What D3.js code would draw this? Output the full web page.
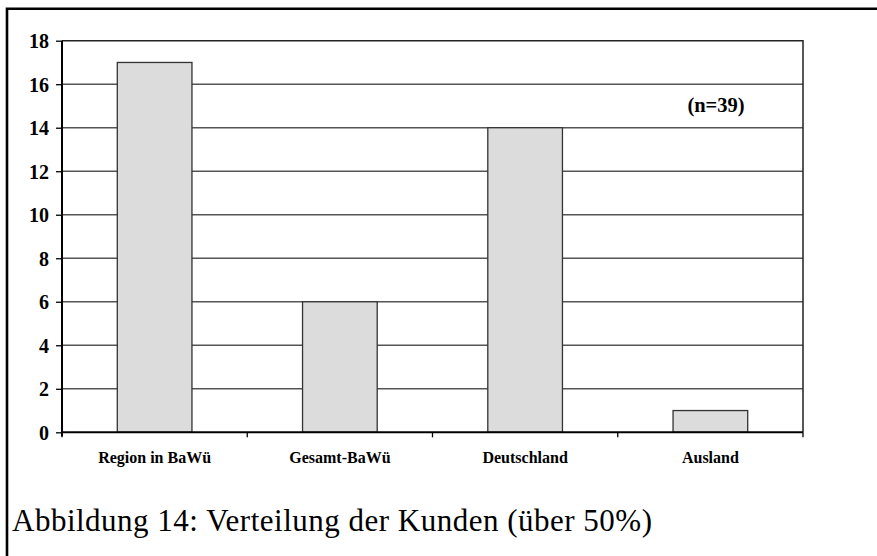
<!DOCTYPE html>
<html>
<head>
<meta charset="utf-8">
<script src="https://cdn.jsdelivr.net/npm/d3@7"></script>
<style>
  html, body { margin: 0; padding: 0; background: #fff; }
  svg { display: block; }
</style>
</head>
<body>
<svg id="chart" width="877" height="556"></svg>
<script>
const categories = ["Region in BaWü", "Gesamt-BaWü", "Deutschland", "Ausland"];
const values = [17, 6, 14, 1];
const yTicks = [0, 2, 4, 6, 8, 10, 12, 14, 16, 18];
const annotation = "(n=39)";
const caption = "Abbildung 14: Verteilung der Kunden (über 50%)";

const svg = d3.select("#chart");
const plot = { left: 62, right: 803, top: 40.7, bottom: 432.3 };

const x = d3.scaleBand().domain(categories).range([plot.left, plot.right]).padding(0);
const y = d3.scaleLinear().domain([0, 18]).range([plot.bottom, plot.top]);
const barFrac = 0.403;
const serif = "'Liberation Serif', 'Times New Roman', serif";

// outer frame (left and top)
svg.append("path")
  .attr("d", `M7,560 L7,8.7 L880,8.7`)
  .attr("fill", "none").attr("stroke", "#000").attr("stroke-width", 2.6);

// gridlines
svg.append("g").selectAll("line")
  .data(yTicks.filter(d => d > 0 && d < 18))
  .join("line")
  .attr("x1", plot.left).attr("x2", plot.right)
  .attr("y1", d => y(d)).attr("y2", d => y(d))
  .attr("stroke", "#555").attr("stroke-width", 1.5);

// plot border top & right
svg.append("path")
  .attr("d", `M${plot.left},${y(18)} L${plot.right},${y(18)} L${plot.right},${y(0)}`)
  .attr("fill", "none").attr("stroke", "#222").attr("stroke-width", 1.5);

// bars
svg.append("g").selectAll("rect")
  .data(values.map((v, i) => ({ c: categories[i], v })))
  .join("rect")
  .attr("x", d => x(d.c) + x.bandwidth() * (1 - barFrac) / 2)
  .attr("width", x.bandwidth() * barFrac)
  .attr("y", d => y(d.v))
  .attr("height", d => y(0) - y(d.v))
  .attr("fill", "#dcdcdc")
  .attr("stroke", "#333").attr("stroke-width", 1.3);

// y axis
const yAxis = d3.axisLeft(y).tickValues(yTicks).tickSize(6).tickPadding(7).tickFormat(d3.format("d"));
const gy = svg.append("g").attr("transform", `translate(${plot.left},0)`).call(yAxis);
gy.select(".domain").attr("stroke", "#000").attr("stroke-width", 2).attr("d", `M0,${y(18)}V${y(0) + 4}`);
gy.selectAll(".tick line").attr("stroke", "#000").attr("stroke-width", 1.3);
gy.selectAll(".tick text")
  .attr("font-family", serif)
  .attr("font-weight", "bold").attr("font-size", 20).attr("fill", "#000")
  .attr("dy", "0.35em");

// x axis
const xAxis = d3.axisBottom(x).tickSize(0).tickPadding(0);
const gx = svg.append("g").attr("transform", `translate(0,${plot.bottom})`).call(xAxis);
gx.select(".domain").attr("stroke", "#000").attr("stroke-width", 2).attr("d", `M${plot.left},0H${plot.right}`);
gx.selectAll(".tick line").remove();
gx.selectAll(".tick text")
  .attr("font-family", serif)
  .attr("font-weight", "bold").attr("font-size", 16).attr("fill", "#000")
  .attr("y", 31).attr("dy", 0);
// category boundary ticks
const bounds = categories.map(c => x(c)).concat([plot.right]);
gx.append("g").selectAll("line").data(bounds).join("line")
  .attr("x1", d => d).attr("x2", d => d)
  .attr("y1", 0).attr("y2", 5)
  .attr("stroke", "#000").attr("stroke-width", 1.3);

// annotation
svg.append("text")
  .attr("x", 716).attr("y", 112)
  .attr("text-anchor", "middle")
  .attr("font-family", serif)
  .attr("font-weight", "bold").attr("font-size", 20.5)
  .text(annotation);

// caption
svg.append("text")
  .attr("x", 12).attr("y", 531)
  .attr("font-family", serif)
  .attr("font-size", 31)
  .attr("textLength", 640).attr("lengthAdjust", "spacing")
  .text(caption);
</script>
</body>
</html>
